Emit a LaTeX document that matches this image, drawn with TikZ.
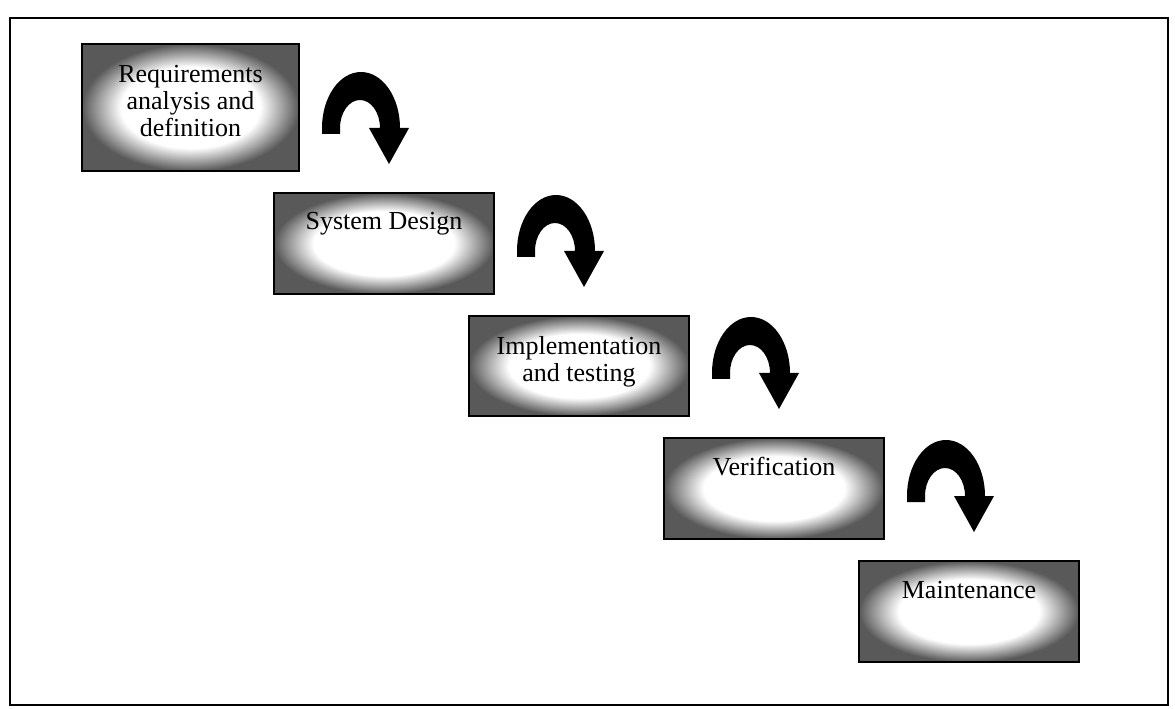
\documentclass[tikz,border=0pt]{standalone}
\usepackage{fontspec}
\setmainfont{Liberation Serif}
\usetikzlibrary{positioning}
\pgfdeclareradialshading{phaseshade}{\pgfpointorigin}{color(0bp)=(white); color(16bp)=(white);
  color(25bp)=(black!65); color(50bp)=(black!65)}
\tikzset{
  phase/.style   = {draw=black, line width=1.5pt, shade, shading=phaseshade, align=center,
                    font=\fontsize{19.5pt}{20.5pt}\selectfont, inner xsep=0pt, inner ysep=0pt,
                    minimum width=165pt, anchor=north west},
  oneline/.style = {phase, text height=27.75pt, text depth=48pt},
  frame/.style   = {draw=black, line width=1.5pt},
  turnarrow/.pic = {
    \fill[black] (0,-30) -- (0,-36) arc[start angle=180, end angle=360, x radius=39, y radius=56]
      -- (87,-36) -- (67,0) -- (47,-36) -- (58,-36)
      arc[start angle=0, end angle=-180, x radius=20, y radius=28] -- (18,-30) -- cycle;
  },
}
\begin{document}
\begin{tikzpicture}[x=0.75pt, y=-0.75pt]
\useasboundingbox (0,0) rectangle (1175,709);
\draw[frame] (10,18) rectangle (1168,705);
\node[phase, minimum width=162.75pt, text height=69.75pt, text depth=25.5pt] (req) at (81,43)
  {Requirements\\analysis and\\definition};
\node[oneline, below right=15pt and -20.25pt of req] (des) {System Design};
\node[phase, text height=49.5pt, text depth=25.5pt, below right=15pt and -20.25pt of des] (impl)
  {Implementation\\and testing};
\node[oneline, below right=15pt and -20.25pt of impl] (ver) {Verification};
\node[oneline, below right=15pt and -20.25pt of ver] (mnt) {Maintenance};
\foreach \b in {req, des, impl, ver}
  \pic at ([shift={(22,-8)}]\b.south east) {turnarrow};
\end{tikzpicture}
\end{document}
